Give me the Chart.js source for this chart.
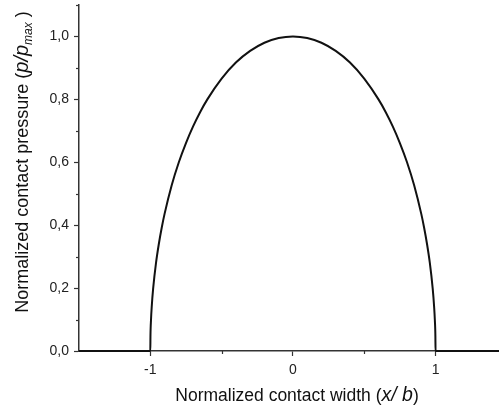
<!DOCTYPE html>
<html>
<head>
<meta charset="utf-8">
<script src="https://cdn.jsdelivr.net/npm/chart.js@4"></script>
<style>
  html, body { margin: 0; padding: 0; background: #fff; }
  #wrap { width: 499px; height: 410px; }
</style>
</head>
<body>
<div id="wrap"><canvas id="chart"></canvas></div>
<script>
// values (x/b against p/pmax)
const widthX = [-1.5, -1.0, -0.999, -0.995, -0.99, -0.98, -0.96, -0.94, -0.92, -0.9, -0.85, -0.8, -0.75, -0.7, -0.65, -0.6,
                -0.5, -0.4, -0.3, -0.2, -0.1, 0,
                0.1, 0.2, 0.3, 0.4, 0.5, 0.6, 0.65, 0.7, 0.75, 0.8, 0.85, 0.9, 0.92, 0.94, 0.96, 0.98, 0.99, 0.995, 0.999, 1.0, 1.45];
const pressure = [0, 0, 0.045, 0.1, 0.141, 0.199, 0.28, 0.341, 0.392, 0.436, 0.527, 0.6, 0.661, 0.714, 0.76, 0.8,
                  0.866, 0.917, 0.954, 0.98, 0.995, 1.0,
                  0.995, 0.98, 0.954, 0.917, 0.866, 0.8, 0.76, 0.714, 0.661, 0.6, 0.527, 0.436, 0.392, 0.341, 0.28, 0.199, 0.141, 0.1, 0.045, 0, 0];
const xTicks = [-1, -0.5, 0, 0.5, 1];
const yTicks = [0, 0.1, 0.2, 0.3, 0.4, 0.5, 0.6, 0.7, 0.8, 0.9, 1.0, 1.1];

const points = widthX.map((x, i) => ({ x: x, y: pressure[i] }));

const isMajorX = v => Math.abs(v - Math.round(v)) < 1e-6;
const isMajorY = v => Math.abs(v * 5 - Math.round(v * 5)) < 1e-6;

const font = { family: 'Arial, "Liberation Sans", sans-serif', size: 14 };

// short minor ticks + axis titles with italic parts
const extras = {
  id: 'extras',
  afterDraw(chart) {
    const c = chart.ctx;
    const xs = chart.scales.x, ys = chart.scales.y;
    c.save();
    c.strokeStyle = '#333';
    c.lineWidth = 1.2;
    xTicks.filter(v => !isMajorX(v)).forEach(v => {
      const px = Math.round(xs.getPixelForValue(v)) + 0.5;
      c.beginPath(); c.moveTo(px, xs.top); c.lineTo(px, xs.top + 3); c.stroke();
    });
    yTicks.filter(v => !isMajorY(v)).forEach(v => {
      const py = Math.round(ys.getPixelForValue(v)) + 0.5;
      c.beginPath(); c.moveTo(ys.right, py); c.lineTo(ys.right - 3, py); c.stroke();
    });

    c.fillStyle = '#111';
    c.textBaseline = 'alphabetic';
    // x title
    let fN = '17.5px Arial, "Liberation Sans", sans-serif';
    let fI = 'italic 19.5px Arial, "Liberation Sans", sans-serif';
    const partsX = [[fN, 'Normalized contact width ('], [fI, 'x/ b'], [fN, ')']];
    let w = 0;
    partsX.forEach(p => { c.font = p[0]; w += c.measureText(p[1]).width; });
    let x0 = 297 - w / 2;
    partsX.forEach(p => { c.font = p[0]; c.fillText(p[1], x0, 401); x0 += c.measureText(p[1]).width; });

    // y title (rotated)
    fN = '18px Arial, "Liberation Sans", sans-serif';
    fI = 'italic 20px Arial, "Liberation Sans", sans-serif';
    const fS = 'italic 12px Arial, "Liberation Sans", sans-serif';
    c.translate(28, 0);
    c.rotate(-Math.PI / 2);
    const partsY = [[fN, 'Normalized contact pressure (', 0], [fI, 'p/p', 0], [fS, 'max', 4], [fN, ' )', 0]];
    w = 0;
    partsY.forEach(p => { c.font = p[0]; w += c.measureText(p[1]).width; });
    let y0 = -162 - w / 2;
    partsY.forEach(p => { c.font = p[0]; c.fillText(p[1], y0, p[2]); y0 += c.measureText(p[1]).width; });
    c.restore();
  }
};

new Chart(document.getElementById('chart'), {
  type: 'scatter',
  data: {
    datasets: [{
      data: points,
      showLine: true,
      borderColor: '#111',
      borderWidth: 2,
      pointRadius: 0,
      cubicInterpolationMode: 'monotone',
      clip: false
    }]
  },
  options: {
    responsive: true,
    maintainAspectRatio: false,
    animation: false,
    layout: { padding: { top: 5, right: 0, left: 0, bottom: 0 } },
    plugins: { legend: { display: false }, tooltip: { enabled: false } },
    scales: {
      x: {
        type: 'linear',
        min: -1.5,
        max: 1.445,
        afterBuildTicks: s => { s.ticks = xTicks.map(v => ({ value: v })); },
        afterFit: s => { s.height = 59; s.paddingLeft = 0; s.paddingRight = 0; },
        grid: {
          drawOnChartArea: false,
          tickLength: 5,
          tickWidth: 1.2,
          tickColor: ctx => isMajorX(ctx.tick.value) ? '#333' : 'transparent'
        },
        border: { display: true, color: '#333', width: 1.5 },
        ticks: {
          autoSkip: false,
          maxRotation: 0,
          padding: 6,
          color: '#222',
          font: font,
          callback: v => isMajorX(v) ? String(Math.round(v)) : ''
        }
      },
      y: {
        min: 0,
        max: 1.1,
        afterBuildTicks: s => { s.ticks = yTicks.map(v => ({ value: v })); },
        afterFit: s => { s.width = 79; s.paddingTop = 0; s.paddingBottom = 0; },
        grid: {
          drawOnChartArea: false,
          tickLength: 5,
          tickWidth: 1.2,
          tickColor: ctx => isMajorY(ctx.tick.value) ? '#333' : 'transparent'
        },
        border: { display: true, color: '#333', width: 1.5 },
        ticks: {
          autoSkip: false,
          padding: 5,
          color: '#222',
          font: font,
          callback: v => isMajorY(v) ? v.toFixed(1).replace('.', ',') : ''
        }
      }
    }
  },
  plugins: [extras]
});
</script>
</body>
</html>
